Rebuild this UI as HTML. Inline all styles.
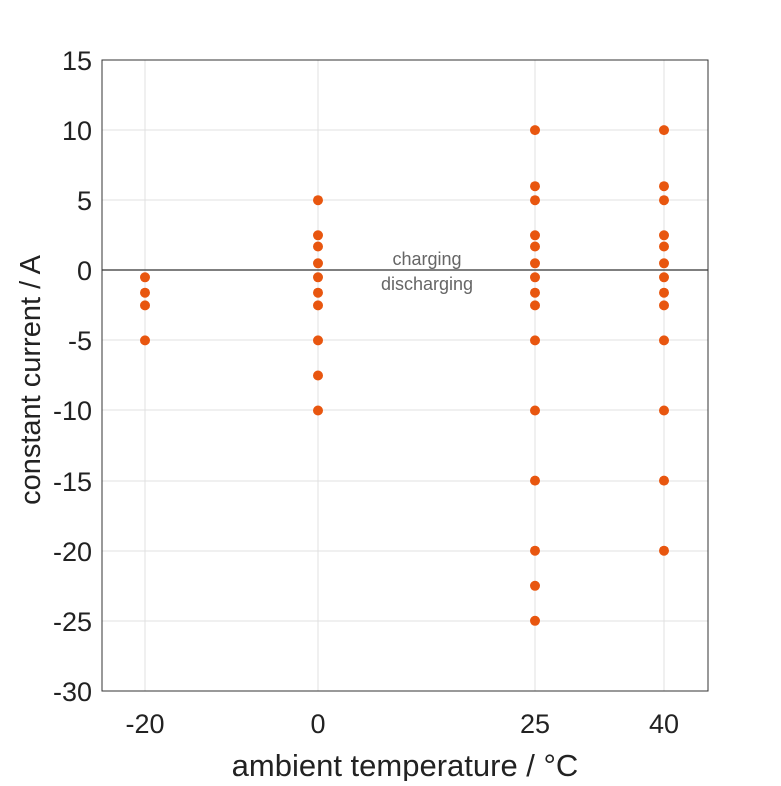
<!DOCTYPE html>
<html><head><meta charset="utf-8"><style>body{margin:0;background:#fff}</style></head>
<body>
<svg width="781" height="781" viewBox="0 0 781 781" xmlns="http://www.w3.org/2000/svg" font-family="Liberation Sans, sans-serif">
<rect width="781" height="781" fill="#fff"/>
<g stroke="#e0e0e0" stroke-width="1">
<line x1="145" y1="60" x2="145" y2="691"/><line x1="318" y1="60" x2="318" y2="691"/>
<line x1="535" y1="60" x2="535" y2="691"/><line x1="664" y1="60" x2="664" y2="691"/>
<line x1="102" y1="130" x2="708" y2="130"/><line x1="102" y1="200" x2="708" y2="200"/>
<line x1="102" y1="340" x2="708" y2="340"/><line x1="102" y1="410" x2="708" y2="410"/>
<line x1="102" y1="481" x2="708" y2="481"/><line x1="102" y1="551" x2="708" y2="551"/>
<line x1="102" y1="621" x2="708" y2="621"/>
</g>
<line x1="102" y1="270" x2="708" y2="270" stroke="#555" stroke-width="1.5"/>
<rect x="102" y="60" width="606" height="631" fill="none" stroke="#333" stroke-width="1"/>
<g font-size="27" fill="#222" text-anchor="end">
<text x="92" y="70">15</text><text x="92" y="140">10</text><text x="92" y="210">5</text>
<text x="92" y="280">0</text><text x="92" y="350">-5</text><text x="92" y="420">-10</text>
<text x="92" y="491">-15</text><text x="92" y="561">-20</text><text x="92" y="631">-25</text>
<text x="92" y="701">-30</text>
</g>
<g font-size="27" fill="#222" text-anchor="middle">
<text x="145" y="733">-20</text><text x="318" y="733">0</text><text x="535" y="733">25</text><text x="664" y="733">40</text>
<text x="405" y="776" font-size="31">ambient temperature / °C</text>
</g>
<text transform="translate(40,380) rotate(-90)" font-size="29" fill="#222" text-anchor="middle">constant current / A</text>
<g font-size="18" fill="#666" text-anchor="middle">
<text x="427" y="265">charging</text><text x="427" y="290">discharging</text>
</g>
<g fill="#E8560F">
<circle cx="145" cy="277.3" r="5"/><circle cx="145" cy="292.7" r="5"/><circle cx="145" cy="305.4" r="5"/><circle cx="145" cy="340.4" r="5"/>
<circle cx="318" cy="200.2" r="5"/><circle cx="318" cy="235.3" r="5"/><circle cx="318" cy="246.5" r="5"/><circle cx="318" cy="263.3" r="5"/><circle cx="318" cy="277.3" r="5"/><circle cx="318" cy="292.7" r="5"/><circle cx="318" cy="305.4" r="5"/><circle cx="318" cy="340.4" r="5"/><circle cx="318" cy="375.5" r="5"/><circle cx="318" cy="410.5" r="5"/>
<circle cx="535" cy="130.1" r="5"/><circle cx="535" cy="186.2" r="5"/><circle cx="535" cy="200.2" r="5"/><circle cx="535" cy="235.3" r="5"/><circle cx="535" cy="246.5" r="5"/><circle cx="535" cy="263.3" r="5"/><circle cx="535" cy="277.3" r="5"/><circle cx="535" cy="292.7" r="5"/><circle cx="535" cy="305.4" r="5"/><circle cx="535" cy="340.4" r="5"/><circle cx="535" cy="410.5" r="5"/><circle cx="535" cy="480.6" r="5"/><circle cx="535" cy="550.7" r="5"/><circle cx="535" cy="585.8" r="5"/><circle cx="535" cy="620.8" r="5"/>
<circle cx="664" cy="130.1" r="5"/><circle cx="664" cy="186.2" r="5"/><circle cx="664" cy="200.2" r="5"/><circle cx="664" cy="235.3" r="5"/><circle cx="664" cy="246.5" r="5"/><circle cx="664" cy="263.3" r="5"/><circle cx="664" cy="277.3" r="5"/><circle cx="664" cy="292.7" r="5"/><circle cx="664" cy="305.4" r="5"/><circle cx="664" cy="340.4" r="5"/><circle cx="664" cy="410.5" r="5"/><circle cx="664" cy="480.6" r="5"/><circle cx="664" cy="550.7" r="5"/>
</g>
</svg>
</body></html>
